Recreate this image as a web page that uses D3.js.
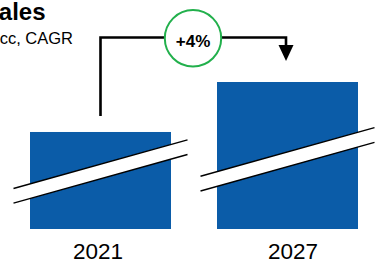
<!DOCTYPE html>
<html>
<head>
<meta charset="utf-8">
<script src="https://cdn.jsdelivr.net/npm/d3@7"></script>
<style>
  html, body { margin: 0; padding: 0; background: #fff; overflow: hidden; }
  svg { display: block; font-family: "Liberation Sans", Arial, sans-serif; }
</style>
</head>
<body>
<svg id="chart" width="375" height="262"></svg>
<script>
// ---- data ----
const years = ["2021", "2027"];
const sales = [100, 127];
const cagrLabel = "+4%";
const titleText = "Sales";
const subtitleText = "EUR bn, cc, CAGR";

// ---- layout ----
const svg = d3.select("#chart");
const blue = "#0b5ca8";
const green = "#22b04c";

const x = d3.scaleBand().domain(years).range([7, 381]).paddingInner(0.246).paddingOuter(0.123);
const xLabel = d3.scalePoint().domain(years).range([98, 293]);
const y = d3.scaleLinear().domain([47.6, 127]).range([229, 82]);

// title
svg.append("text").attr("x", 45.5).attr("y", 19.5).attr("text-anchor", "end")
  .attr("font-size", 24).attr("font-weight", "bold").attr("fill", "#000").text(titleText);
svg.append("text").attr("x", 73).attr("y", 44.3).attr("text-anchor", "end")
  .attr("font-size", 16.5).attr("fill", "#000").text(subtitleText);

// bars
const data = years.map((yr, i) => ({ year: yr, value: sales[i] }));
svg.selectAll("rect.bar").data(data).enter().append("rect")
  .attr("class", "bar")
  .attr("x", d => x(d.year))
  .attr("y", d => y(d.value))
  .attr("width", x.bandwidth())
  .attr("height", d => y(y.domain()[0]) - y(d.value))
  .attr("fill", blue);

// axis breaks
const breakMid = [171.5, 159.3];
const slope = -0.2797, gap = 14.7, ext = 87;
data.forEach((d, i) => {
  const cx = x(d.year) + x.bandwidth() / 2;
  const x0 = cx - ext, x1 = cx + ext;
  const yu0 = breakMid[i] - gap / 2 - slope * ext, yu1 = breakMid[i] - gap / 2 + slope * ext;
  const yl0 = yu0 + gap, yl1 = yu1 + gap;
  svg.append("path")
    .attr("d", `M${x0},${yu0}L${x1},${yu1}L${x1},${yl1}L${x0},${yl0}Z`)
    .attr("fill", "#fff");
  svg.append("line").attr("x1", x0).attr("y1", yu0).attr("x2", x1).attr("y2", yu1)
    .attr("stroke", "#000").attr("stroke-width", 1.4);
  svg.append("line").attr("x1", x0).attr("y1", yl0).attr("x2", x1).attr("y2", yl1)
    .attr("stroke", "#000").attr("stroke-width", 1.4);
});

// axis labels
svg.selectAll("text.year").data(years).enter().append("text")
  .attr("class", "year")
  .attr("x", d => xLabel(d))
  .attr("y", 258.5)
  .attr("text-anchor", "middle")
  .attr("font-size", 22.5)
  .attr("fill", "#000")
  .text(d => d);

// CAGR connector
const lx = x(years[0]) + x.bandwidth() / 2;
const rx = x(years[1]) + x.bandwidth() / 2 - 1.5;
const topY = 37.5;
svg.append("path")
  .attr("d", `M${lx},116L${lx},${topY}L${rx},${topY}L${rx},46`)
  .attr("fill", "none").attr("stroke", "#000").attr("stroke-width", 2.6)
  .attr("stroke-linejoin", "miter");
svg.append("path")
  .attr("d", `M${rx - 7.5},45L${rx + 7.5},45L${rx},61Z`)
  .attr("fill", "#000");

const cxC = 193, cyC = 38.3;
svg.append("circle").attr("cx", cxC).attr("cy", cyC).attr("r", 28.2)
  .attr("fill", "#fff").attr("stroke", green).attr("stroke-width", 2);
svg.append("text").attr("x", cxC).attr("y", 46.8).attr("text-anchor", "middle")
  .attr("font-size", 17).attr("font-weight", "bold").attr("fill", "#000").text(cagrLabel);
</script>
</body>
</html>
